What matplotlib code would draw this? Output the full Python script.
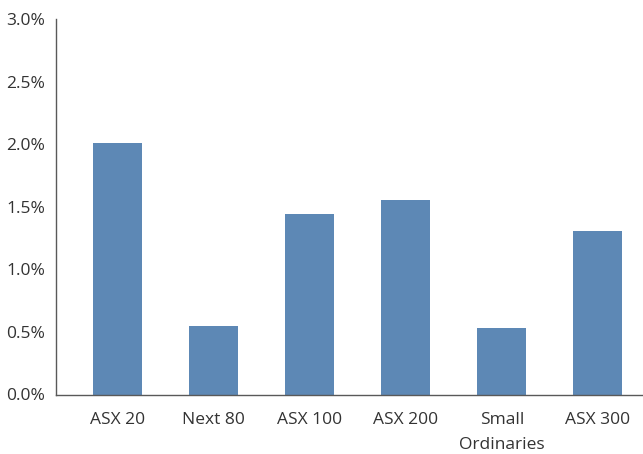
import matplotlib
matplotlib.use('Agg')
import matplotlib.pyplot as plt
from matplotlib.ticker import FuncFormatter

# Index returns by segment (%)
categories = ['ASX 20', 'Next 80', 'ASX 100', 'ASX 200', 'Small\nOrdinaries', 'ASX 300']
values = [2.01, 0.55, 1.44, 1.55, 0.53, 1.31]

BAR_COLOR = '#5d88b5'
TEXT_COLOR = '#333333'

plt.rcParams['font.family'] = ['Open Sans', 'DejaVu Sans']

fig = plt.figure(figsize=(6.43, 4.54), dpi=100)
ax = fig.add_axes([56 / 643, (454 - 394.5) / 454, (643 - 56) / 643, (394.5 - 19) / 454])

x = list(range(len(categories)))
ax.bar(x, values, width=0.51, color=BAR_COLOR, zorder=2)

ax.set_xlim(-0.64, 5.47)
ax.set_ylim(0, 3.0)
ax.set_yticks([0, 0.5, 1.0, 1.5, 2.0, 2.5, 3.0])
ax.yaxis.set_major_formatter(FuncFormatter(lambda v, p: f'{v:.1f}%'))
ax.set_xticks(x)
ax.set_xticklabels(categories, linespacing=1.75)

for s in ['top', 'right']:
    ax.spines[s].set_visible(False)
for s in ['left', 'bottom']:
    ax.spines[s].set_color('#595959')
    ax.spines[s].set_linewidth(1.0)

ax.tick_params(axis='both', length=0, labelsize=12.5, colors=TEXT_COLOR)
ax.tick_params(axis='y', pad=8)
ax.tick_params(axis='x', pad=12.5)

fig.savefig('out.png', dpi=100)
